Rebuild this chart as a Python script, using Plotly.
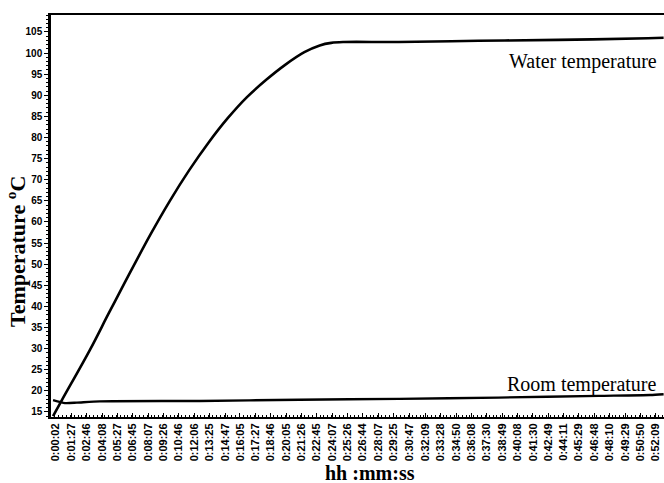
import plotly.graph_objects as go

# ---- data ----
tick_labels = ["0:00:02", "0:01:27", "0:02:46", "0:04:08", "0:05:27", "0:06:45", "0:08:07",
               "0:09:26", "0:10:46", "0:12:06", "0:13:25", "0:14:47", "0:16:05", "0:17:27",
               "0:18:46", "0:20:05", "0:21:26", "0:22:45", "0:24:07", "0:25:26", "0:26:44",
               "0:28:07", "0:29:25", "0:30:47", "0:32:09", "0:33:28", "0:34:50", "0:36:08",
               "0:37:30", "0:38:49", "0:40:08", "0:41:30", "0:42:49", "0:44:11", "0:45:29",
               "0:46:48", "0:48:10", "0:49:29", "0:50:50", "0:52:09"]

water_time_s = [-8, 38, 184, 280, 365, 500, 600, 700, 800, 900, 1000, 1100, 1200, 1300,
                1380, 1440, 1506, 1791, 2206, 2621, 3088, 3170]
water_temp = [14.0, 17.8, 29.7, 38.2, 45.6, 57.1, 65.0, 72.2, 78.7, 84.5, 89.5, 93.6, 97.2,
              100.2, 101.8, 102.4, 102.6, 102.6, 102.9, 103.1, 103.5, 103.6]

room_time_s = [-8, 54, 116, 236, 755, 1274, 1793, 2310, 2831, 3100, 3170]
room_temp = [17.8, 17.1, 17.2, 17.5, 17.6, 17.9, 18.1, 18.4, 18.8, 19.0, 19.2]

y_ticks = list(range(15, 106, 5))


def to_seconds(s):
    h, m, sec = s.split(":")
    return int(h) * 3600 + int(m) * 60 + int(sec)


tick_vals = [to_seconds(s) for s in tick_labels]

fig = go.Figure()
fig.add_trace(go.Scatter(x=water_time_s, y=water_temp, mode="lines",
                         line=dict(color="black", width=2.6, shape="spline", smoothing=1.0),
                         name="Water temperature", showlegend=False, hoverinfo="skip"))
fig.add_trace(go.Scatter(x=room_time_s, y=room_temp, mode="lines",
                         line=dict(color="black", width=2.4, shape="spline", smoothing=0.6),
                         name="Room temperature", showlegend=False, hoverinfo="skip"))

PL, PR, PT, PB = 51, 664, 15, 417
PW, PH = PR - PL, PB - PT

fig.update_layout(
    width=664, height=483,
    margin=dict(l=PL, r=664 - PR, t=PT, b=483 - PB),
    paper_bgcolor="white", plot_bgcolor="white",
    showlegend=False,
)

fig.update_xaxes(
    range=[-18.7, 3172],
    tickmode="array", tickvals=tick_vals, ticktext=tick_labels,
    tickangle=-90,
    tickfont=dict(family="Liberation Sans", size=11, color="black", weight="bold"),
    showgrid=False, zeroline=False,
    showline=True, linecolor="black", linewidth=2, mirror=True,
    ticks="inside", ticklen=4, tickcolor="black", tickwidth=1,
    minor=dict(ticks="inside", ticklen=2, tickcolor="black", tickmode="linear", tick0=2, dtick=20),
)

fig.update_yaxes(
    range=[13.8, 109.0],
    tickmode="array", tickvals=y_ticks, ticktext=[str(v) for v in y_ticks],
    tickfont=dict(family="Liberation Sans", size=10, color="black", weight="bold"),
    showgrid=False, zeroline=False,
    showline=True, linecolor="black", linewidth=2.5, mirror=False,
    ticks="outside", ticklen=4, tickcolor="black", tickwidth=1,
    minor=dict(ticks="outside", ticklen=2, tickcolor="black", tickmode="linear", tick0=15, dtick=1),
)


def px_x(x):
    return (x - PL) / PW


def px_y(y):
    return (PB - y) / PH


# axis titles as annotations (placed like the reference)
fig.add_annotation(text="Temperature <sup>o</sup>C", xref="paper", yref="paper",
                   x=px_x(16), y=px_y(252), textangle=-90,
                   showarrow=False, xanchor="center", yanchor="middle",
                   font=dict(family="Liberation Serif", size=22, color="black", weight="bold"))
fig.add_annotation(text="hh :mm:ss", xref="paper", yref="paper",
                   x=px_x(370), y=px_y(473),
                   showarrow=False, xanchor="center", yanchor="middle", borderpad=0,
                   font=dict(family="Liberation Serif", size=20, color="black", weight="bold"))

# series labels
fig.add_annotation(text="Water temperature", xref="paper", yref="paper",
                   x=px_x(659), y=px_y(62),
                   showarrow=False, xanchor="right", yanchor="middle",
                   font=dict(family="Liberation Serif", size=20, color="black"))
fig.add_annotation(text="Room temperature", xref="paper", yref="paper",
                   x=px_x(659), y=px_y(384),
                   showarrow=False, xanchor="right", yanchor="middle",
                   font=dict(family="Liberation Serif", size=20, color="black"))

fig.write_html("out.html",
               config={"displayModeBar": False},
               post_script="document.body.style.margin='0';"
                           "document.documentElement.style.overflow='hidden';")
